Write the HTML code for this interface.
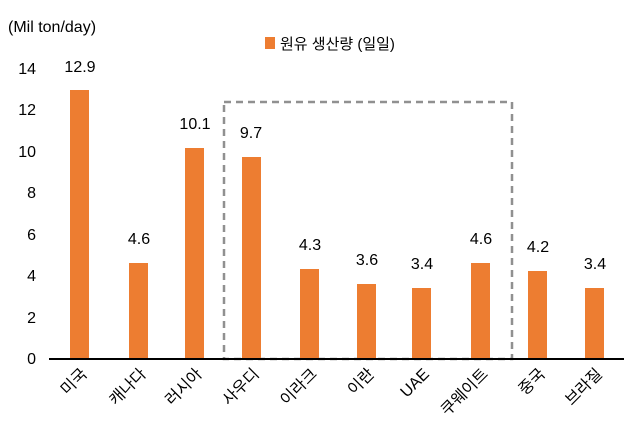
<!DOCTYPE html><html><head><meta charset="utf-8"><style>
body{margin:0;background:#fff;}
svg text{font-family:"Liberation Sans","Noto Sans CJK KR",sans-serif;fill:#000;}
</style></head><body>
<svg width="636" height="434" viewBox="0 0 636 434">
<text x="8" y="32" font-size="16">(Mil ton/day)</text>
<rect x="265" y="37" width="10" height="12" fill="#ED7D31"/>
<text x="280" y="49" font-size="15">원유 생산량 (일일)</text>
<g font-size="16" text-anchor="end">
<text x="36" y="364">0</text><text x="36" y="323">2</text><text x="36" y="281">4</text>
<text x="36" y="240">6</text><text x="36" y="198">8</text><text x="36" y="157">10</text>
<text x="36" y="115">12</text><text x="36" y="74">14</text>
</g>
<rect x="224" y="102" width="288" height="257" fill="none" stroke="#909090" stroke-width="2.5" stroke-dasharray="7,5"/>
<g fill="#ED7D31">
<rect x="70" y="90" width="19" height="269"/>
<rect x="129" y="263" width="19" height="96"/>
<rect x="185" y="148" width="19" height="211"/>
<rect x="242" y="157" width="19" height="202"/>
<rect x="300" y="269" width="19" height="90"/>
<rect x="357" y="284" width="19" height="75"/>
<rect x="412" y="288" width="19" height="71"/>
<rect x="471" y="263" width="19" height="96"/>
<rect x="528" y="271" width="19" height="88"/>
<rect x="585" y="288" width="19" height="71"/>
</g>
<line x1="49" y1="359" x2="624" y2="359" stroke="#000" stroke-width="2"/>
<g font-size="16" text-anchor="middle">
<text x="80" y="72">12.9</text><text x="139" y="244">4.6</text><text x="195" y="129">10.1</text>
<text x="251" y="138">9.7</text><text x="310" y="250">4.3</text><text x="367" y="265">3.6</text>
<text x="422" y="269">3.4</text><text x="481" y="244">4.6</text><text x="538" y="252">4.2</text>
<text x="595" y="269">3.4</text>
</g>
<g font-size="16" text-anchor="end">
<text transform="translate(88,375) rotate(-45)">미국</text>
<text transform="translate(147,375) rotate(-45)">캐나다</text>
<text transform="translate(203,375) rotate(-45)">러시아</text>
<text transform="translate(260,375) rotate(-45)">사우디</text>
<text transform="translate(318,375) rotate(-45)">이라크</text>
<text transform="translate(375,375) rotate(-45)">이란</text>
<text transform="translate(430,375) rotate(-45)">UAE</text>
<text transform="translate(489,375) rotate(-45)">쿠웨이트</text>
<text transform="translate(546,375) rotate(-45)">중국</text>
<text transform="translate(603,375) rotate(-45)">브라질</text>
</g>
</svg></body></html>
